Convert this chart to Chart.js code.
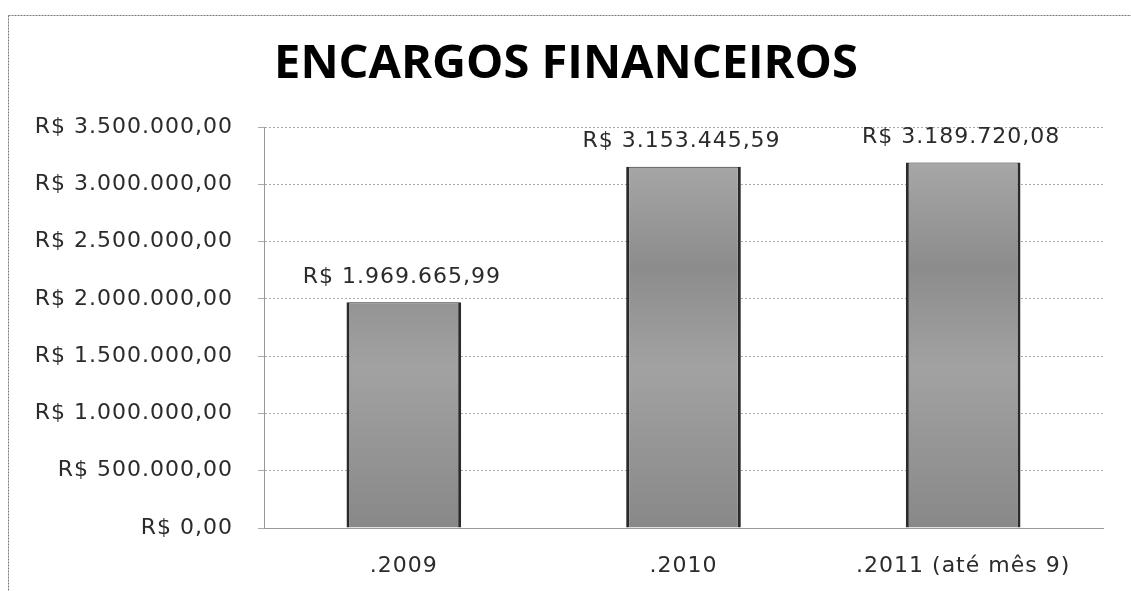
<!DOCTYPE html>
<html><head><meta charset="utf-8">
<script src="https://cdn.jsdelivr.net/npm/chart.js@4/dist/chart.umd.min.js"></script>
<style>html,body{margin:0;padding:0;background:#fff}#wrap{width:1131px;height:591px;position:relative}</style>
</head><body><div id="wrap"><canvas id="c" width="1131" height="591"></canvas></div>
<script>
const titleText = 'ENCARGOS FINANCEIROS';
const categories = ['.2009', '.2010', '.2011 (até mês 9)'];
const values = [1969665.99, 3153445.59, 3189720.08];
const yMin = 0, yMax = 3500000, yStep = 500000;

function fmtBRL(v){
  const fixed = Math.abs(v).toFixed(2);
  let [i, d] = fixed.split('.');
  i = i.replace(/\B(?=(\d{3})+(?!\d))/g, '.');
  return 'R$ ' + i + ',' + d;
}
const FONT = '"DejaVu Sans", sans-serif';
const TFONT = '"Open Sans", "DejaVu Sans", sans-serif';

const decor = {
  id: 'decor',
  beforeInit(chart){ chart.ctx.letterSpacing = '1px'; },
  beforeDraw(chart){
    const ctx = chart.ctx;
    ctx.letterSpacing = '1px';
    ctx.save();
    ctx.strokeStyle = '#777';
    ctx.lineWidth = 1;
    ctx.setLineDash([2,1]);
    ctx.beginPath();
    ctx.moveTo(8.5, 15.5); ctx.lineTo(1131, 15.5);
    ctx.moveTo(8.5, 15.5); ctx.lineTo(8.5, 591);
    ctx.stroke();
    ctx.restore();
    ctx.save();
    ctx.letterSpacing = '0px';
    ctx.fillStyle = '#000';
    ctx.font = 'bold 47px ' + TFONT;
    ctx.textAlign = 'center'; ctx.textBaseline = 'middle';
    ctx.fillText(titleText, 566, 65);
    ctx.restore();
  },
  afterDatasetsDraw(chart){
    const ctx = chart.ctx;
    const meta = chart.getDatasetMeta(0);
    ctx.save();
    ctx.letterSpacing = '1px';
    ctx.fillStyle = '#2b2b2b';
    ctx.font = '22px ' + FONT;
    ctx.textAlign = 'center'; ctx.textBaseline = 'middle';
    meta.data.forEach((bar, i) => {
      ctx.fillText(fmtBRL(values[i]), bar.x - 2, bar.y - 25);
    });
    ctx.restore();
  }
};

function barFill(ctx){
  const chart = ctx.chart; const ca = chart.chartArea;
  if (!ca) return '#999';
  const g = chart.ctx.createLinearGradient(0, ca.top, 0, ca.bottom);
  g.addColorStop(0, '#b0b0b0');
  g.addColorStop(0.35, '#8c8c8c');
  g.addColorStop(0.6, '#a2a2a2');
  g.addColorStop(1, '#888888');
  return g;
}

new Chart(document.getElementById('c'), {
  type: 'bar',
  data: {
    labels: categories,
    datasets: [{
      data: values,
      backgroundColor: barFill,
      borderColor: '#2a2a2a',
      borderWidth: { left: 3, right: 3, top: 1, bottom: 0 },
      borderSkipped: false,
      categoryPercentage: 1,
      barPercentage: 0.41
    }]
  },
  plugins: [decor],
  options: {
    responsive: false,
    animation: false,
    layout: { padding: { top: 127, right: 28, bottom: 0, left: 8 } },
    plugins: { legend: { display: false }, tooltip: { enabled: false }, title: { display: false } },
    scales: {
      x: {
        afterFit(scale){ scale.height = 63; },
        grid: { display: false, drawTicks: false },
        border: { color: '#999', dash: [2,2] },
        ticks: { color: '#2b2b2b', font: { family: FONT, size: 22 }, padding: 25, maxRotation: 0 }
      },
      y: {
        min: yMin, max: yMax,
        afterFit(scale){ scale.width = 256; },
        grid: { color: '#aaa', tickLength: 6, tickColor: '#aaa' },
        border: { color: '#999', dash: [2,2] },
        ticks: { stepSize: yStep, color: '#2b2b2b', font: { family: FONT, size: 22 }, padding: 25,
          callback: v => fmtBRL(v) }
      }
    }
  }
});
</script></body></html>
